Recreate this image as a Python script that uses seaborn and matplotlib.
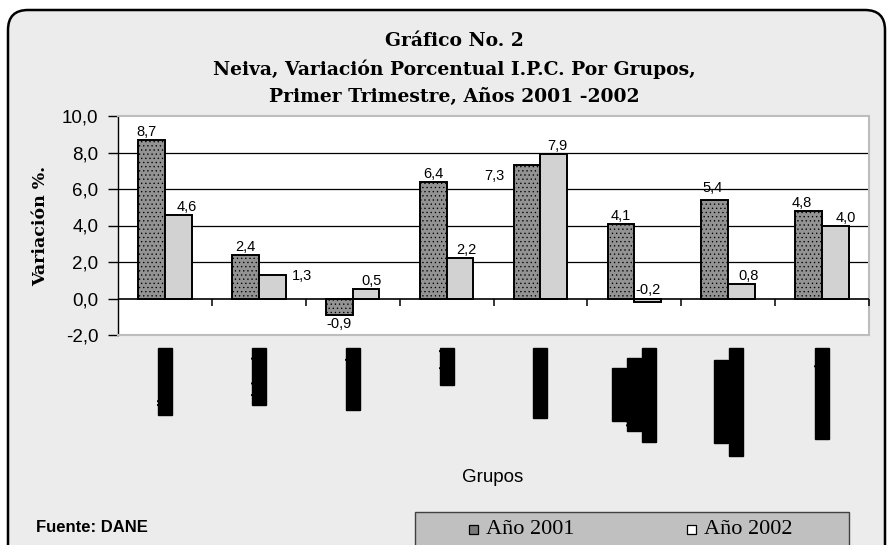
import numpy as np
import pandas as pd
import matplotlib
matplotlib.use("Agg")
import matplotlib.pyplot as plt
import seaborn as sns
from matplotlib.patches import FancyBboxPatch, Rectangle
from matplotlib.transforms import IdentityTransform

# --- DATOS ---
grupos = ["Alimentos", "Vivienda", "Vestuario", "Salud", "Educación",
          "Cultura,\ndiversión y\nesparcimiento", "Transporte y\ncomunicaciones",
          "Gastos varios"]
anios = ["Año 2001", "Año 2002"]
var_2001 = [8.7, 2.4, -0.9, 6.4, 7.3, 4.1, 5.4, 4.8]
var_2002 = [4.6, 1.3, 0.5, 2.2, 7.9, -0.2, 0.8, 4.0]
yticks = [-2, 0, 2, 4, 6, 8, 10]

# desplazamiento (px) de algunas etiquetas, como en el original
off_2001 = [(-5, 0), (0, 0), (0, 0), (0, 0), (-33, -19), (0, 0), (-2, 4), (-7, 0)]
off_2002 = [(8, 0), (30, -9), (5, 0), (6, 0), (4, 0), (0, 0), (7, 0), (10, 0)]

df = pd.DataFrame({
    "grupo": grupos * 2,
    "anio": [anios[0]] * len(grupos) + [anios[1]] * len(grupos),
    "valor": var_2001 + var_2002,
})

sns.set_style("white")
plt.rcParams["font.family"] = ["Liberation Sans", "DejaVu Sans"]
plt.rcParams["hatch.linewidth"] = 0.45
for k in ["text.color", "axes.labelcolor", "xtick.color", "ytick.color"]:
    plt.rcParams[k] = "black"

W, H = 889, 545
fig = plt.figure(figsize=(W / 100, H / 100), dpi=100, facecolor="white")

# marco redondeado de fondo
marco = FancyBboxPatch((8, -30), 877, 565, boxstyle="round,pad=0,rounding_size=20",
                       transform=IdentityTransform(), facecolor="#ececec",
                       edgecolor="black", linewidth=1.8, zorder=-10)
fig.add_artist(marco)

L, R, T, B = 118, 869, 116, 335
ax = fig.add_axes([L / W, 1 - B / H, (R - L) / W, (B - T) / H])
ax.set_facecolor("white")

sns.barplot(data=df, x="grupo", y="valor", hue="anio", palette=["#939393", "#d2d2d2"],
            width=0.57, gap=0, saturation=1, edgecolor="black", linewidth=1.4,
            errorbar=None, legend=False, ax=ax, zorder=3)

for p in ax.containers[0]:
    p.set_hatch("....")

ax.set_ylim(-2, 10)
ax.set_xlim(-0.5, len(grupos) - 0.5)
for y in [2, 4, 6, 8]:
    ax.axhline(y, color="black", lw=0.9, zorder=1)
ax.axhline(0, color="black", lw=1.2, zorder=4)
ax.plot(np.arange(len(grupos)) + 0.5, np.zeros(len(grupos)), ls="none",
        marker=3, ms=5, mew=1.1, color="black", zorder=4, clip_on=False)

ax.set_yticks(yticks)
ax.set_yticklabels([f"{v:.1f}".replace(".", ",") for v in yticks], fontsize=13.5)
ax.tick_params(axis="y", direction="out", length=7, width=1, pad=7, left=True)
ax.tick_params(axis="x", length=0, pad=9)
ax.set_xlabel("")
ax.set_ylabel("")
for s in ["top", "right", "bottom"]:
    ax.spines[s].set_color("#bdbdbd")
    ax.spines[s].set_linewidth(1.5)
ax.spines["left"].set_color("black")
ax.spines["left"].set_linewidth(1)

ax.set_xticks(range(len(grupos)))
ax.set_xticklabels(grupos, rotation=90, fontsize=10, fontweight="bold", color="black",
                   va="top", ha="center", multialignment="center", linespacing=1.15)
caja = dict(facecolor="black", edgecolor="black", pad=0)
for lbl in ax.get_xticklabels():
    lbl.set_bbox(caja)

# etiquetas de varias lineas: un bloque por linea, centrados
fig.canvas.draw()
for lbl in ax.get_xticklabels():
    lineas = lbl.get_text().split("\n")
    if len(lineas) < 2:
        continue
    bb = lbl.get_window_extent()
    yc = (bb.y0 + bb.y1) / 2
    paso = bb.width / len(lineas)
    lbl.set_visible(False)
    for i, linea in enumerate(lineas):
        xc = bb.x0 + (i + 0.5) * paso
        fig.text(xc / W, yc / H, linea, rotation=90, ha="center", va="center",
                 fontsize=10, fontweight="bold", color="black", bbox=caja)

# etiquetas de valores
for cont, vals, offs in zip(ax.containers, [var_2001, var_2002], [off_2001, off_2002]):
    for p, v, (dx, dy) in zip(cont, vals, offs):
        xc = p.get_x() + p.get_width() / 2
        txt = f"{v:.1f}".replace(".", ",")
        if v < -0.5:
            ax.annotate(txt, (xc, v), xytext=(dx, -2 + dy), textcoords="offset pixels",
                        ha="center", va="top", fontsize=10.5)
        else:
            ax.annotate(txt, (xc, max(v, 0)), xytext=(dx, 1 + dy), textcoords="offset pixels",
                        ha="center", va="bottom", fontsize=10.5)

# textos
fig.text(454 / W, 1 - 69 / H,
         "Gráfico No. 2\nNeiva, Variación Porcentual I.P.C. Por Grupos,\nPrimer Trimestre, Años 2001 -2002",
         ha="center", va="center", multialignment="center", linespacing=1.62,
         family="DejaVu Serif", fontweight="bold", fontsize=13.5)
fig.text(41 / W, 1 - 226 / H, "Variación %.", rotation=90, ha="center", va="center",
         family="DejaVu Serif", fontweight="bold", fontsize=12.5)
fig.text(493 / W, 1 - 478 / H, "Grupos", ha="center", va="center", fontsize=13.5)
fig.text(36 / W, 1 - 528 / H, "Fuente: DANE", ha="left", va="center",
         fontweight="bold", fontsize=12)

# leyenda
fig.add_artist(Rectangle((415, -20), 434, H - 512 + 20, transform=IdentityTransform(),
                         facecolor="#c0c0c0", edgecolor="#404040", linewidth=1))
for x0, col, lab in [(469, "#7a7a7a", anios[0]), (687, "white", anios[1])]:
    fig.add_artist(Rectangle((x0, H - 529 - 4.5), 9, 9, transform=IdentityTransform(),
                             facecolor=col, edgecolor="black", linewidth=0.9))
    fig.text((x0 + 17) / W, 1 - 529 / H, lab, ha="left", va="center",
             family="Liberation Serif", fontsize=16)

fig.savefig("out.png", dpi=100)
